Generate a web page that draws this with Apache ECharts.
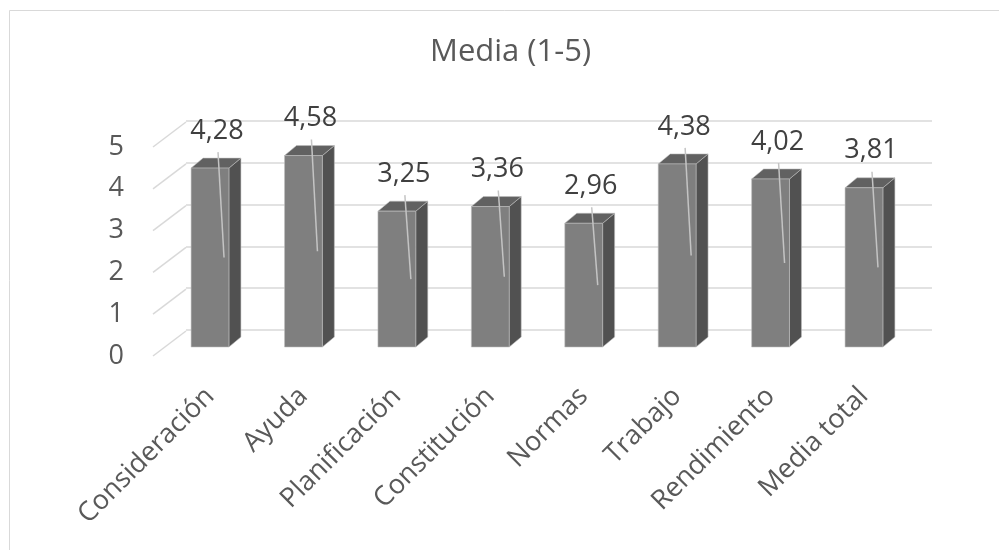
<!DOCTYPE html>
<html>
<head>
<meta charset="utf-8">
<script src="https://cdn.jsdelivr.net/npm/echarts@6/dist/echarts.min.js"></script>
<style>
html,body{margin:0;padding:0;background:#fff;}
#chart{width:999px;height:550px;}
</style>
</head>
<body>
<div id="chart"></div>
<script>
const titleText = 'Media (1-5)';
const categories = ['Consideración','Ayuda','Planificación','Constitución','Normas','Trabajo','Rendimiento','Media total'];
const values = [4.28, 4.58, 3.25, 3.36, 2.96, 4.38, 4.02, 3.81];
const yTicks = [0, 1, 2, 3, 4, 5];

const FONT = '"Open Sans", sans-serif';
const DEPTH_X = 12, DEPTH_Y = -10;
const FLOOR_DX = 33, FLOOR_DY = -25;

const chart = echarts.init(document.getElementById('chart'), null, {renderer: 'canvas'});

function fmt(v) { return v.toFixed(2).replace('.', ','); }

const option = {
  animation: false,
  backgroundColor: '#ffffff',
  title: {
    text: titleText,
    left: 425,
    top: 32,
    textStyle: {fontFamily: FONT, fontSize: 31, fontWeight: 'normal', color: '#595959'}
  },
  graphic: [{
    type: 'rect',
    shape: {x: 9.5, y: 10.5, width: 1100, height: 700},
    style: {fill: 'none', stroke: '#d9d9d9', lineWidth: 1},
    silent: true, z: -10
  }],
  grid: [
    // 0: front plane of bars
    {left: 163.3, right: 88.3, top: 138, bottom: 203},
    // 1: back wall
    {left: 186, right: 67, top: 121, bottom: 220},
    // 2: front edge of floor (tick labels)
    {left: 153, right: 100, top: 147, bottom: 194}
  ],
  xAxis: [
    {
      gridIndex: 0, type: 'category', data: categories,
      axisLine: {show: false}, axisTick: {show: false}, splitLine: {show: false},
      axisLabel: {interval: 0, rotate: 45, margin: 45, fontFamily: FONT, fontSize: 27, color: '#595959'}
    },
    {gridIndex: 1, type: 'value', min: 0, max: 1, show: false},
    {gridIndex: 2, type: 'value', min: 0, max: 1, show: false}
  ],
  yAxis: [
    {gridIndex: 0, type: 'value', min: 0, max: 5, interval: 1, show: false},
    {
      gridIndex: 1, type: 'value', min: 0, max: 5, interval: 1,
      axisLine: {show: false}, axisTick: {show: false}, axisLabel: {show: false},
      splitLine: {show: true, lineStyle: {color: '#d9d9d9', width: 1.5}}
    },
    {
      gridIndex: 2, type: 'value', min: 0, max: 5, interval: 1,
      axisLine: {show: false}, axisTick: {show: false}, splitLine: {show: false},
      axisLabel: {margin: 29, fontFamily: FONT, fontSize: 27, color: '#595959'}
    }
  ],
  series: [
    {
      // floor diagonal lines
      type: 'custom', xAxisIndex: 2, yAxisIndex: 2, silent: true,
      data: yTicks.map(v => [0, v]),
      renderItem: function (params, api) {
        const p = api.coord([0, api.value(1)]);
        return {
          type: 'line',
          shape: {x1: p[0], y1: p[1], x2: p[0] + FLOOR_DX, y2: p[1] + FLOOR_DY},
          style: {stroke: '#d9d9d9', lineWidth: 1.5}
        };
      }
    },
    {
      // 3D bars with labels and leader lines
      type: 'custom', xAxisIndex: 0, yAxisIndex: 0, silent: true,
      data: values.map((v, i) => [i, v]),
      renderItem: function (params, api) {
        const i = api.value(0), v = api.value(1);
        const b = api.coord([i, 0]);
        const t = api.coord([i, v]);
        const m = api.coord([i, v / 2]);
        const w = api.size([1, 0])[0] * 0.405;
        const x0 = b[0] - w / 2, x1 = b[0] + w / 2;
        const by = b[1], ty = t[1];
        const edge = 'rgba(190,190,190,0.7)';
        const lx = b[0] + 7, ly = ty - 37;
        return {
          type: 'group',
          children: [
            {type: 'polygon', shape: {points: [[x1, ty], [x1 + DEPTH_X, ty + DEPTH_Y], [x1 + DEPTH_X, by + DEPTH_Y], [x1, by]]},
              style: {fill: '#515151', stroke: edge, lineWidth: 0.8}},
            {type: 'polygon', shape: {points: [[x0, ty], [x1, ty], [x1 + DEPTH_X, ty + DEPTH_Y], [x0 + DEPTH_X, ty + DEPTH_Y]]},
              style: {fill: '#616161', stroke: edge, lineWidth: 0.8}},
            {type: 'rect', shape: {x: x0, y: ty, width: w, height: by - ty},
              style: {fill: '#7f7f7f', stroke: edge, lineWidth: 0.8}},
            {type: 'line', shape: {x1: lx + 1, y1: ly + 21, x2: b[0] + 14, y2: m[1]},
              style: {stroke: '#c4c4c4', lineWidth: 1.5}, z2: 5},
            {type: 'text', x: lx, y: ly,
              style: {text: fmt(v), align: 'center', verticalAlign: 'middle', font: '27px ' + FONT, fill: '#404040'}, z2: 6}
          ]
        };
      }
    }
  ]
};
chart.setOption(option);
</script>
</body>
</html>
